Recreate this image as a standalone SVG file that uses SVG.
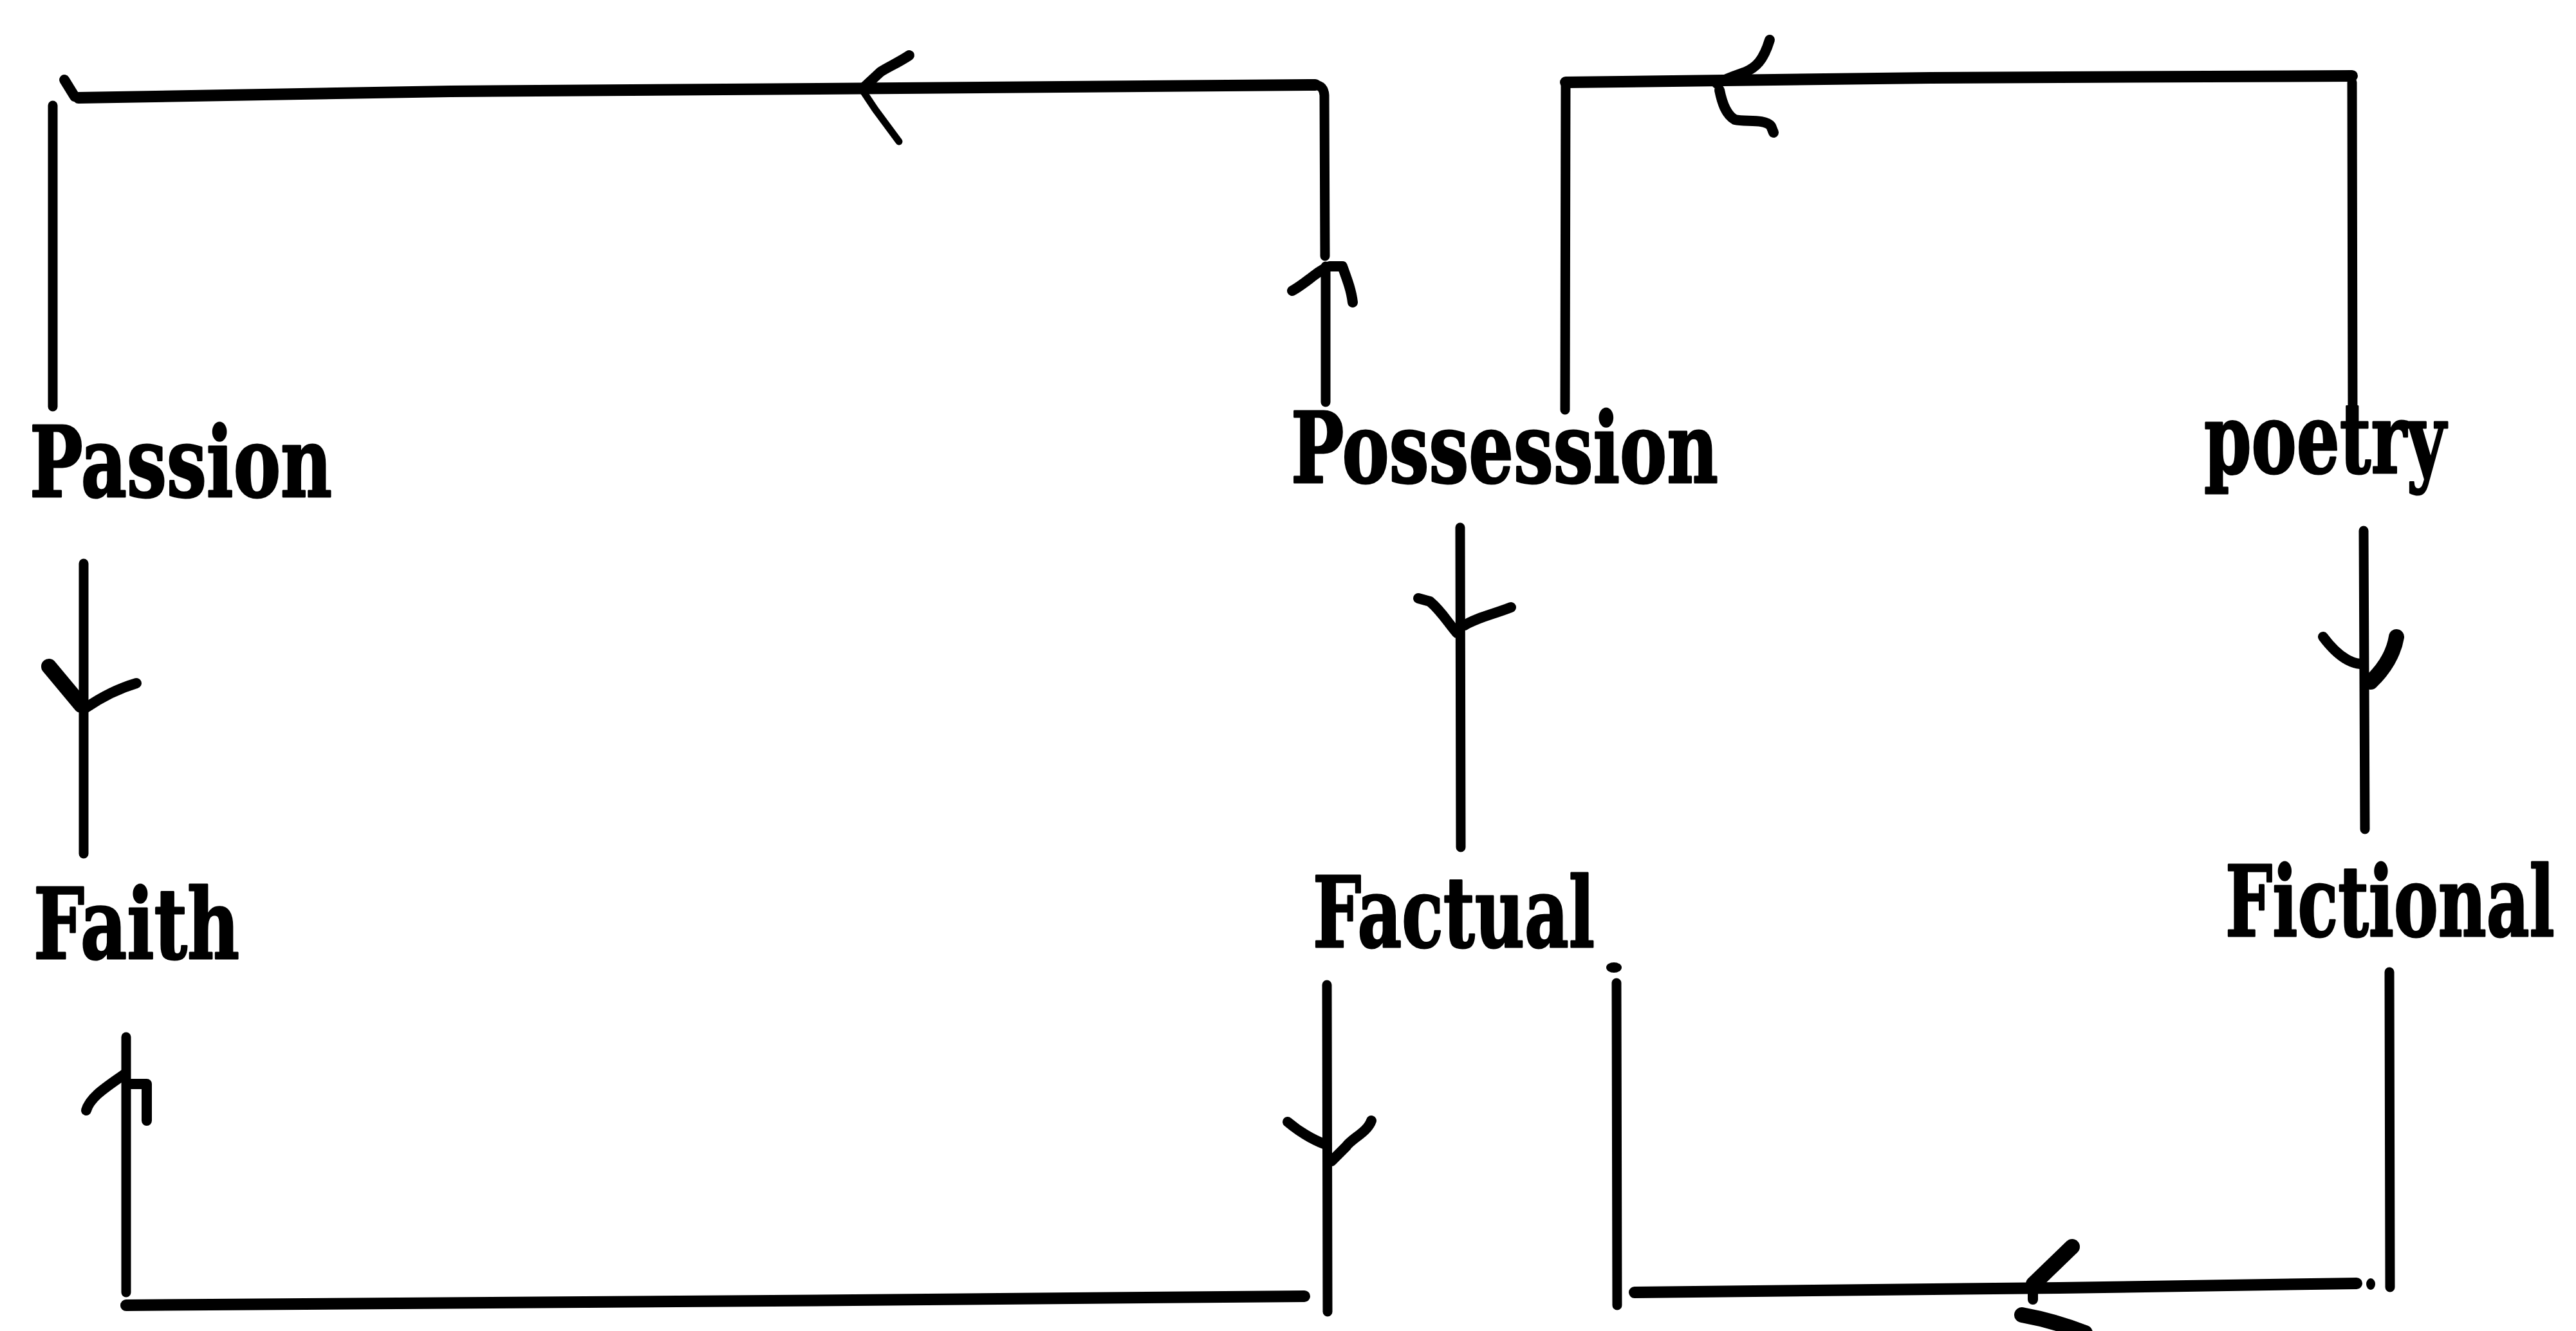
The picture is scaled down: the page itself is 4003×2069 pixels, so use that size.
<svg xmlns="http://www.w3.org/2000/svg" width="4003" height="2069" viewBox="0 0 4003 2069">
<style>
.bg{fill:#ffffff}
.lbl{font-family:"DejaVu Serif","Liberation Serif",serif;font-weight:bold;font-size:152px;fill:#000;stroke:#000;stroke-width:3;stroke-linejoin:round}
.v{fill:none;stroke:#000;stroke-width:15;stroke-linecap:round;stroke-linejoin:round}
.h{fill:none;stroke:#000;stroke-width:18;stroke-linecap:round;stroke-linejoin:round}
.b{fill:none;stroke:#000;stroke-width:16;stroke-linecap:round;stroke-linejoin:round}
.bt{fill:none;stroke:#000;stroke-width:11;stroke-linecap:round;stroke-linejoin:round}
.bw{fill:none;stroke:#000;stroke-width:24;stroke-linecap:round;stroke-linejoin:round}
</style>
<rect class="bg" x="0" y="0" width="4003" height="2069"/>
<g id="connectors">
  <g id="c-possession-passion">
    <path class="v" d="M2060,625 L2060,414"/>
    <path class="v" d="M2059,398 L2058,148 Q2057,133 2044,132"/>
    <path class="h" d="M2044,132 L1400,137 L700,142 L122,152"/>
    <path class="b" d="M100,124 L116,150"/>
    <path class="v" d="M82,164 L82,632"/>
    <path class="b" d="M2008,452 C2030,440 2048,420 2066,414 L2086,414 C2094,436 2100,452 2102,470"/>
    <path class="b" d="M1413,86 C1395,98 1378,105 1368,112 L1340,138"/>
    <path class="bt" d="M1340,140 L1360,170 L1397,220"/>
  </g>
  <g id="c-poetry-possession">
    <path class="v" d="M3656,652 L3655,128"/>
    <path class="h" d="M3655,118 L3000,121 L2433,128"/>
    <path class="v" d="M2433,128 L2432,637"/>
    <path class="b" d="M2750,62 C2740,95 2728,105 2712,112 C2695,118 2682,122 2668,130"/>
    <path class="b" d="M2672,140 C2676,160 2682,178 2696,186 C2712,190 2742,184 2752,196 L2756,206"/>
  </g>
  <g id="c-passion-faith">
    <path class="v" d="M130,876 L130,1327"/>
    <path class="bw" d="M76,1036 L126,1096"/>
    <path class="b" d="M212,1062 C185,1070 160,1082 134,1100"/>
  </g>
  <g id="c-possession-factual">
    <path class="v" d="M2269,820 L2270,1317"/>
    <path class="b" d="M2204,930 L2222,935 C2240,950 2250,968 2264,984"/>
    <path class="b" d="M2348,944 C2320,955 2295,960 2276,972"/>
  </g>
  <g id="c-poetry-fictional">
    <path class="v" d="M3673,825 L3675,1289"/>
    <path class="b" d="M3610,990 C3625,1010 3645,1030 3668,1032"/>
    <path class="bw" d="M3724,990 C3720,1015 3705,1040 3684,1060"/>
  </g>
  <g id="c-factual-faith">
    <path class="v" d="M2062,1531 L2063,2039"/>
    <path class="h" d="M2027,2015 L1200,2022 L196,2029"/>
    <path class="v" d="M196,2009 L196,1612"/>
    <path class="b" d="M2001,1744 C2020,1760 2040,1772 2062,1780"/>
    <path class="b" d="M2131,1742 C2125,1760 2100,1770 2092,1782 L2069,1805"/>
    <path class="b" d="M134,1726 C140,1705 165,1690 193,1670"/>
    <path class="b" d="M204,1685 L228,1685 L228,1742"/>
  </g>
  <g id="c-fictional-factual">
    <path class="v" d="M3713,1511 L3714,2001"/>
    <path class="h" d="M3662,1995 L3200,2002 L2540,2009"/>
    <ellipse cx="3684" cy="1996" rx="7" ry="9" fill="#000"/>
    <path class="v" d="M2512,1528 L2513,2029"/>
    <ellipse cx="2508" cy="1504" rx="12" ry="8" fill="#000"/>
    <path class="bw" d="M3220,1938 L3160,1996"/>
    <path class="b" d="M3159,2006 L3159,2020"/>
    <path class="bw" d="M3142,2044 C3175,2050 3210,2060 3240,2072"/>
  </g>
</g>
<g id="node-passion"><text class="lbl" x="46" y="772" textLength="470" lengthAdjust="spacingAndGlyphs">Passion</text></g>
<g id="node-possession"><text class="lbl" x="2006" y="750" textLength="664" lengthAdjust="spacingAndGlyphs">Possession</text></g>
<g id="node-poetry"><text class="lbl" x="3425" y="735" textLength="376" lengthAdjust="spacingAndGlyphs">poetry</text></g>
<g id="node-faith"><text class="lbl" x="52" y="1490" textLength="320" lengthAdjust="spacingAndGlyphs">Faith</text></g>
<g id="node-factual"><text class="lbl" x="2040" y="1472" textLength="438" lengthAdjust="spacingAndGlyphs">Factual</text></g>
<g id="node-fictional"><text class="lbl" transform="translate(3458,1455) scale(0.6,1)" x="0" y="0" textLength="853" lengthAdjust="spacingAndGlyphs">Fictional</text></g>
</svg>
